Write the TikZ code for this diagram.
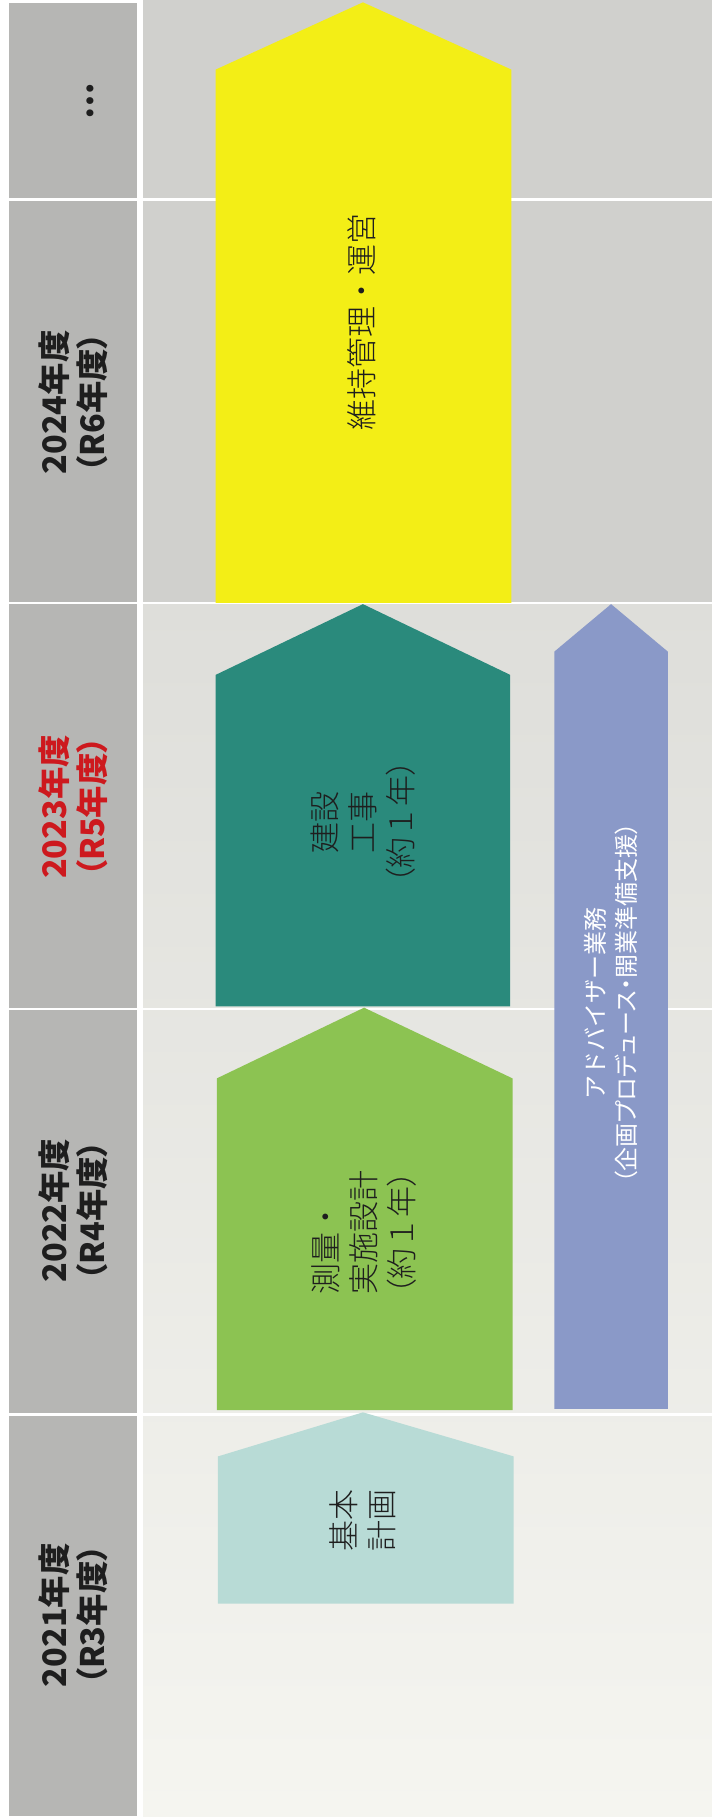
\documentclass[tikz,border=0pt]{standalone}
\usepackage{fontspec}
\newfontfamily\jp{Noto Sans CJK JP}
\newfontfamily\jpp[RawFeature=+palt]{Noto Sans CJK JP}
\newfontfamily\jpl{Noto Sans CJK JP Light}
\newfontfamily\jplp[RawFeature=+palt]{Noto Sans CJK JP Light}
\definecolor{colgray}{RGB}{182,182,180}
\definecolor{bgup}{RGB}{208,208,205}
\definecolor{bgmid}{RGB}{222,222,218}
\definecolor{bglow}{RGB}{245,245,240}
\definecolor{cyellow}{RGB}{243,238,22}
\definecolor{cteal}{RGB}{42,138,124}
\definecolor{cgreen}{RGB}{140,195,82}
\definecolor{clteal}{RGB}{184,219,214}
\definecolor{cblue}{RGB}{138,153,200}
\definecolor{cred}{RGB}{205,25,30}
\definecolor{ink}{RGB}{30,30,30}
\begin{document}
\begin{tikzpicture}[x=0.5798pt,y=-0.5798pt,
  yearlbl/.style={rotate=90,align=center,inner sep=0,text=ink,
    font=\jp\bfseries\fontsize{16.2}{19.1}\selectfont},
  phaselbl/.style={rotate=90,inner sep=0,text=ink,
    font=\jpl\fontsize{15.5}{19}\selectfont},
  advlbl/.style={rotate=90,align=center,inner sep=0,text=white,
    font=\jp\fontsize{12}{15.7}\selectfont},
  gridline/.style={white,line width=1.3pt}]
\useasboundingbox (0,0) rectangle (614,1567);
\fill[white] (0,0) rectangle (614,1567);
% background
\fill[bgup] (123,0) rectangle (614,520);
\shade[top color=bgmid,bottom color=bglow] (123,520) rectangle (614,1567);
% year column
\fill[colgray] (8,3) rectangle (118,1566);
\foreach \yy in {172,520,870,1220}
  \draw[gridline] (0,\yy) -- (614,\yy);
\draw[white,line width=2.9pt] (120.5,0) -- (120.5,1567);
% arrows
\fill[cyellow] (186,520) -- (186,60) -- (313,2) -- (441,60) -- (441,520) -- cycle;
\fill[cteal] (186,868) -- (186,582) -- (313,521) -- (440,582) -- (440,868) -- cycle;
\fill[cgreen] (187,1216) -- (187,930) -- (314,869) -- (442,930) -- (442,1216) -- cycle;
\fill[clteal] (188,1383) -- (188,1256) -- (313,1218) -- (443,1256) -- (443,1383) -- cycle;
\fill[cblue] (478,1215) -- (478,562) -- (527,521) -- (576,562) -- (576,1215) -- cycle;
% year labels
\node[yearlbl] (dots) at (78,87) {…};
\node[yearlbl] (y2024) at (63.5,347) {2024年度\\{\jpp\bfseries （R6年度）}};
\node[yearlbl,text=cred] (y2023) at (63.5,696) {2023年度\\{\jpp\bfseries （R5年度）}};
\node[yearlbl] (y2022) at (63.5,1044) {2022年度\\{\jpp\bfseries （R4年度）}};
\node[yearlbl] (y2021) at (63.5,1393) {2021年度\\{\jpp\bfseries （R3年度）}};
% phase labels
\node[phaselbl] (ops) at (312,278) {維持管理・運営};
\node[phaselbl,align=center] (build) at (313,709) {建設\\工事\\{\jplp （}約１年{\jplp ）}};
\node[phaselbl,align=left,anchor=west] (design) at (314,1117) {測量・\\実施設計\\{\jplp （}約１年{\jplp ）}};
\node[phaselbl,align=center] (plan) at (313,1311) {基本\\計画};
\node[advlbl] (adv) at (527,865) {アドバイザー業務\\{\jpp （企画プロデュース・開業準備支援）}};
\end{tikzpicture}
\end{document}
